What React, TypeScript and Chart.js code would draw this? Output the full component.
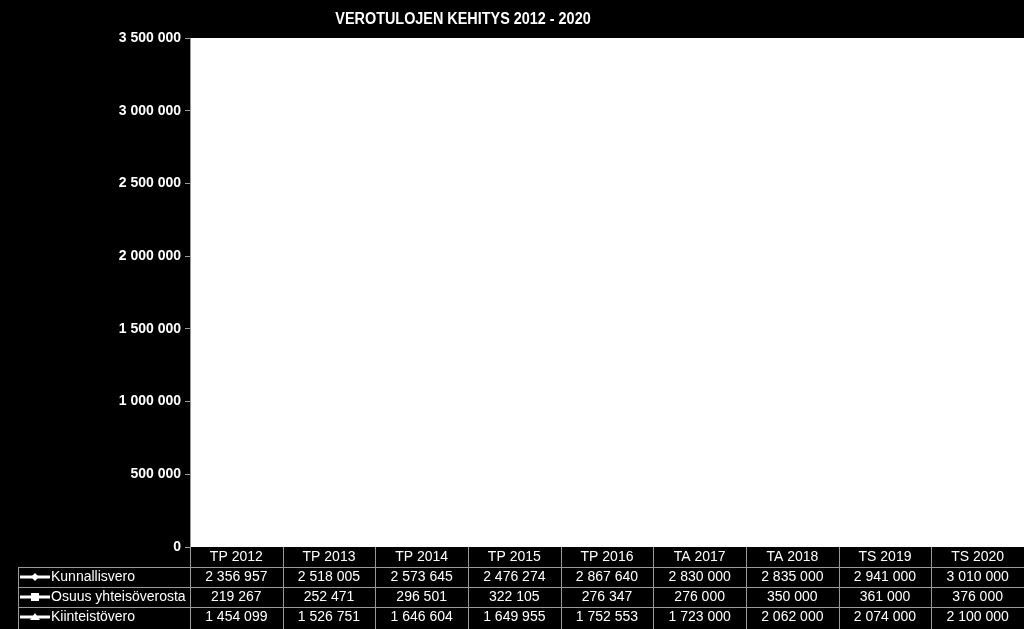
import { useEffect, useRef } from 'react';
import { Chart, registerables, Plugin } from 'chart.js';

Chart.register(...registerables);

const title = 'VEROTULOJEN KEHITYS 2012 - 2020';
const categories = ['TP 2012', 'TP 2013', 'TP 2014', 'TP 2015', 'TP 2016', 'TA 2017', 'TA 2018', 'TS 2019', 'TS 2020'];
const seriesNames = ['Kunnallisvero', 'Osuus yhteisöverosta', 'Kiinteistövero'];
const kunnallisvero = [2356957, 2518005, 2573645, 2476274, 2867640, 2830000, 2835000, 2941000, 3010000];
const yhteisovero = [219267, 252471, 296501, 322105, 276347, 276000, 350000, 361000, 376000];
const kiinteistovero = [1454099, 1526751, 1646604, 1649955, 1752553, 1723000, 2062000, 2074000, 2100000];
const markers = ['rectRot', 'rect', 'triangle'];

const fmt = (v: number) => Math.round(v).toString().replace(/\B(?=(\d{3})+(?!\d))/g, ' ');

const FONT = '"Liberation Sans", Arial, sans-serif';
const GRID = '#9a9a9a';

const backgroundPlugin: Plugin = {
  id: 'bg',
  beforeDraw(chart) {
    const { ctx, chartArea } = chart;
    ctx.save();
    ctx.fillStyle = '#000';
    ctx.fillRect(0, 0, chart.width, chart.height);
    ctx.fillStyle = '#fff';
    ctx.fillRect(chartArea.left, chartArea.top, chartArea.right - chartArea.left, chartArea.bottom - chartArea.top);
    ctx.restore();
  },
  afterDraw(chart) {
    const { ctx } = chart;
    ctx.save();
    ctx.fillStyle = '#fff';
    ctx.font = `bold 16px ${FONT}`;
    ctx.textAlign = 'center';
    ctx.textBaseline = 'middle';
    // otsikko on kapeampi kuin normaali Arial
    ctx.translate(463, 20);
    ctx.scale(0.9, 1);
    ctx.fillText(title, 0, 0);
    ctx.restore();
  },
};

const tablePlugin: Plugin = {
  id: 'dataTable',
  afterDraw(chart) {
    const { ctx, chartArea } = chart;
    const x = chart.scales.x;
    const rowH = 20;
    const top = chartArea.bottom;
    const tableLeft = 18;
    const colW = (chartArea.right - chartArea.left) / categories.length;
    const values = [kunnallisvero, yhteisovero, kiinteistovero];
    ctx.save();
    ctx.strokeStyle = GRID;
    ctx.lineWidth = 1;
    // pystyviivat
    for (let i = 0; i <= categories.length; i++) {
      const cx = Math.round(chartArea.left + i * colW) + 0.5;
      ctx.beginPath();
      ctx.moveTo(cx, top);
      ctx.lineTo(cx, chart.height);
      ctx.stroke();
    }
    ctx.beginPath();
    ctx.moveTo(tableLeft + 0.5, top + rowH);
    ctx.lineTo(tableLeft + 0.5, chart.height);
    ctx.stroke();
    // vaakaviivat
    for (let r = 1; r <= 3; r++) {
      const y = Math.round(top + r * rowH) + 0.5;
      ctx.beginPath();
      ctx.moveTo(tableLeft, y);
      ctx.lineTo(chartArea.right, y);
      ctx.stroke();
    }
    ctx.fillStyle = '#fff';
    ctx.font = `14px ${FONT}`;
    ctx.textAlign = 'center';
    ctx.textBaseline = 'middle';
    categories.forEach((c, i) => {
      const cx = x.getPixelForValue(i);
      ctx.fillText(c, cx, top + rowH / 2);
      values.forEach((arr, r) => {
        ctx.fillText(fmt(arr[i]), cx, top + rowH * (r + 1) + rowH / 2);
      });
    });
    // rivien otsikot + legendan merkit
    seriesNames.forEach((name, r) => {
      const cy = top + rowH * (r + 1) + rowH / 2;
      ctx.strokeStyle = '#fff';
      ctx.lineWidth = 3;
      ctx.beginPath();
      ctx.moveTo(20, cy);
      ctx.lineTo(50, cy);
      ctx.stroke();
      ctx.fillStyle = '#fff';
      ctx.beginPath();
      if (markers[r] === 'rectRot') {
        ctx.moveTo(35, cy - 4);
        ctx.lineTo(39, cy);
        ctx.lineTo(35, cy + 4);
        ctx.lineTo(31, cy);
      } else if (markers[r] === 'rect') {
        ctx.rect(31, cy - 4, 8, 8);
      } else {
        ctx.moveTo(35, cy - 4);
        ctx.lineTo(40, cy + 3);
        ctx.lineTo(30, cy + 3);
      }
      ctx.closePath();
      ctx.fill();
      ctx.textAlign = 'left';
      ctx.fillText(name, 51, cy);
    });
    ctx.restore();
  },
};

export default function App() {
  const chartRef = useRef<HTMLCanvasElement>(null);
  const chartInstance = useRef<Chart | null>(null);

  useEffect(() => {
    if (!chartRef.current) return;
    document.body.style.margin = '0';
    document.body.style.background = '#000';

    if (chartInstance.current) {
      chartInstance.current.destroy();
    }

    const series = [kunnallisvero, yhteisovero, kiinteistovero];

    chartInstance.current = new Chart(chartRef.current, {
      type: 'line',
      data: {
        labels: categories,
        datasets: seriesNames.map((name, i) => ({
          label: name,
          data: series[i],
          borderColor: '#fff',
          backgroundColor: '#fff',
          borderWidth: 2,
          pointStyle: markers[i] as any,
          pointRadius: 4,
        })),
      },
      options: {
        responsive: false,
        animation: false,
        devicePixelRatio: 1,
        layout: { autoPadding: false, padding: { top: 38, bottom: 82, left: 0, right: 0 } },
        plugins: {
          legend: { display: false },
          title: { display: false },
          tooltip: { enabled: false },
        },
        scales: {
          x: {
            display: false,
            offset: true,
          },
          y: {
            min: 0,
            max: 3500000,
            afterFit(scale) {
              scale.width = 190;
            },
            ticks: {
              stepSize: 500000,
              color: '#fff',
              padding: 4,
              font: { family: FONT, size: 14, weight: 'bold' },
              callback: (v) => fmt(Number(v)),
            },
            grid: {
              drawOnChartArea: false,
              drawTicks: true,
              tickLength: 5,
              color: GRID,
            },
            border: { display: true, color: GRID },
          },
        },
      },
      plugins: [backgroundPlugin, tablePlugin],
    });

    return () => {
      if (chartInstance.current) {
        chartInstance.current.destroy();
        chartInstance.current = null;
      }
    };
  }, []);

  return (
    <div style={{ width: 1024, height: 629, background: '#000' }}>
      <canvas ref={chartRef} width={1024} height={629}></canvas>
    </div>
  );
}
